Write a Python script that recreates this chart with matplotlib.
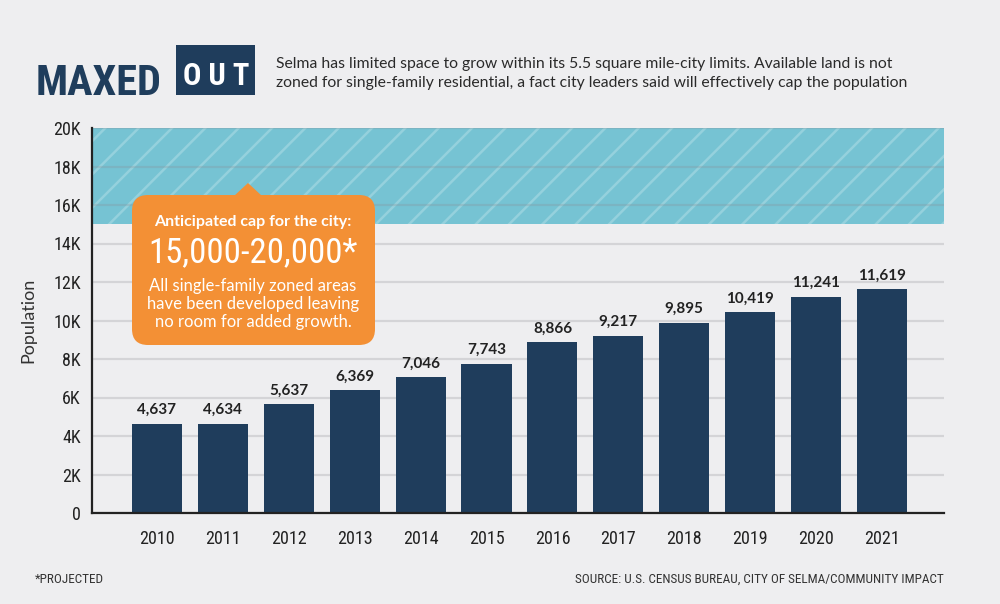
import matplotlib
matplotlib.use("Agg")
import matplotlib.pyplot as plt
from matplotlib import font_manager
from matplotlib.patches import FancyBboxPatch, Rectangle, Polygon

years = ["2010", "2011", "2012", "2013", "2014", "2015",
         "2016", "2017", "2018", "2019", "2020", "2021"]
population = [4637, 4634, 5637, 6369, 7046, 7743,
              8866, 9217, 9895, 10419, 11241, 11619]
cap_low, cap_high = 15000, 20000
yticks = [0, 2000, 4000, 6000, 8000, 10000, 12000, 14000, 16000, 18000, 20000]
ytick_labels = ["0", "2K", "4K", "6K", "8K", "10K", "12K", "14K", "16K", "18K", "20K"]

navy = "#1f3d5c"
bg = "#eeeef0"
orange = "#f39035"
ink = "#222222"

# pick a narrow face if one is around
names = {f.name for f in font_manager.fontManager.ttflist}
narrow = "DejaVu Sans"
for cand in ["Liberation Sans Narrow", "DejaVu Sans Condensed", "Roboto Condensed", "Open Sans Condensed"]:
    if cand in names:
        narrow = cand
        break
body = "Lato" if "Lato" in names else "DejaVu Sans"

plt.rcParams["hatch.linewidth"] = 1.8

fig = plt.figure(figsize=(10, 6.04), dpi=100, facecolor=bg)
W, H = 1000, 604


def fx(px):
    return px / W


def fy(py):
    return 1 - py / H


ax = fig.add_axes([fx(92), fy(513), fx(944) - fx(92), fy(128) - fy(513)])
ax.set_facecolor(bg)

x = list(range(len(years)))
ax.axhspan(cap_low, cap_high, facecolor="#76c3d3", edgecolor="#95d1dd",
           hatch="/", linewidth=0, zorder=0.2)
bars = ax.bar(x, population, width=0.76, color=navy, zorder=2)
for xi, v in zip(x, population):
    ax.annotate(f"{v:,}", (xi, v), xytext=(0, 5), textcoords="offset points",
                ha="center", va="bottom", fontsize=11, fontweight="bold",
                color=ink, family=body)

ax.set_xlim(-0.985, 11.94)
ax.set_ylim(0, 20000)
ax.set_yticks(yticks)
ax.set_yticklabels(ytick_labels)
ax.set_xticks(x)
ax.set_xticklabels(years)
ax.tick_params(length=0, labelsize=13, labelcolor=ink)
ax.tick_params(axis="y", pad=8)
ax.tick_params(axis="x", pad=12)
for lab in ax.get_xticklabels() + ax.get_yticklabels():
    lab.set_family(narrow)
ax.set_axisbelow(True)
ax.yaxis.grid(True, color="#8a8a90", alpha=0.25, linewidth=1.6)
for s in ["top", "right"]:
    ax.spines[s].set_visible(False)
for s in ["left", "bottom"]:
    ax.spines[s].set_color(ink)
    ax.spines[s].set_linewidth(1.6)
    ax.spines[s].set_zorder(3)
ax.set_ylabel("Population", fontsize=13, color="#333333", family=body, labelpad=12)

# callout
box = FancyBboxPatch((fx(132), fy(345)), fx(375) - fx(132), fy(195) - fy(345),
                     boxstyle="round,pad=0,rounding_size=0.016",
                     mutation_aspect=W / H,
                     transform=fig.transFigure, facecolor=orange, edgecolor="none", zorder=5)
fig.patches.append(box)
fig.patches.append(Polygon([(fx(234), fy(196)), (fx(248), fy(183)), (fx(262), fy(196))],
                           closed=True, transform=fig.transFigure,
                           facecolor=orange, edgecolor="none", zorder=5))
cx = fx(253)
fig.text(cx, fy(226), "Anticipated cap for the city:", ha="center", va="baseline",
         fontsize=11.5, fontweight="bold", color="white", family=body, zorder=6)
fig.text(cx, fy(262), "15,000-20,000*", ha="center", va="baseline",
         fontsize=25, color="white", family=narrow, zorder=6)
for yy, line in zip([291, 309, 327], ["All single-family zoned areas",
                                      "have been developed leaving",
                                      "no room for added growth."]):
    fig.text(cx, fy(yy), line, ha="center", va="baseline", fontsize=12,
             color="white", family=body, zorder=6)

# header
fig.text(fx(36), fy(95), "MAXED", ha="left", va="baseline", fontsize=30.5,
         fontweight="bold", color=navy, family=narrow)
fig.patches.append(Rectangle((fx(176), fy(95)), fx(255) - fx(176), fy(45) - fy(95),
                             transform=fig.transFigure, facecolor=navy, edgecolor="none"))
fig.text(fx(216), fy(85), "O U T", ha="center", va="baseline", fontsize=22,
         fontweight="bold", color="white", family=narrow)
fig.text(fx(276), fy(68), "Selma has limited space to grow within its 5.5 square mile-city limits. Available land is not",
         ha="left", va="baseline", fontsize=11.3, color="#2a2a2a", family=body)
fig.text(fx(276), fy(87), "zoned for single-family residential, a fact city leaders said will effectively cap the population",
         ha="left", va="baseline", fontsize=11.3, color="#2a2a2a", family=body)

# footer
fig.text(fx(35), fy(583), "*PROJECTED", ha="left", va="baseline", fontsize=9.5,
         color="#333333", family=narrow)
fig.text(fx(944), fy(583), "SOURCE: U.S. CENSUS BUREAU, CITY OF SELMA/COMMUNITY IMPACT",
         ha="right", va="baseline", fontsize=9.5, color="#333333", family=narrow)

fig.savefig("out.png", dpi=100, facecolor=bg)
